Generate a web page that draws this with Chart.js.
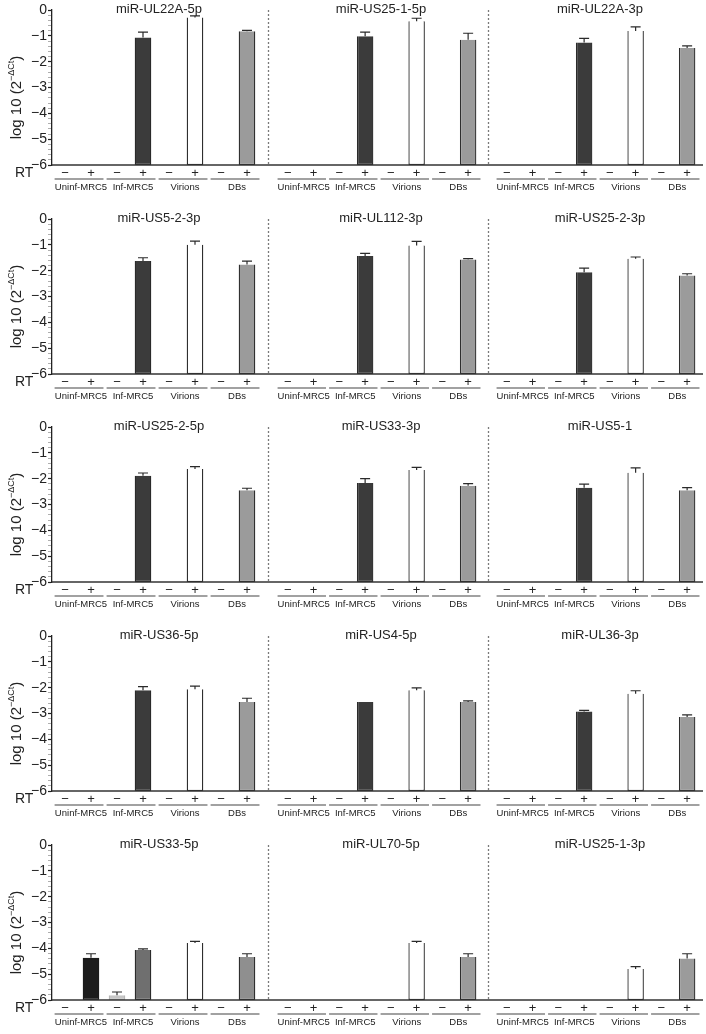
<!DOCTYPE html>
<html>
<head>
<meta charset="utf-8">
<script src="https://cdn.jsdelivr.net/npm/chart.js@4.4.1/dist/chart.umd.min.js"></script>
<style>
    body { margin: 0; background: #fff; width: 706px; height: 1034px; position: relative; overflow: hidden; }
    canvas { position: absolute; }
</style>
</head>
<body>
<script>
// Panel titles, left to right, top to bottom
const panelTitles = [
    'miR-UL22A-5p', 'miR-US25-1-5p', 'miR-UL22A-3p',
    'miR-US5-2-3p', 'miR-UL112-3p', 'miR-US25-2-3p',
    'miR-US25-2-5p', 'miR-US33-3p', 'miR-US5-1',
    'miR-US36-5p', 'miR-US4-5p', 'miR-UL36-3p',
    'miR-US33-5p', 'miR-UL70-5p', 'miR-US25-1-3p'
];
const rtLabels = ['−', '+', '−', '+', '−', '+', '−', '+'];
const groupLabels = ['Uninf-MRC5', 'Inf-MRC5', 'Virions', 'DBs'];

// log10(2^-dCt) per condition, one entry per panel (null = no bar)
const uninfPlus   = [null, null, null, null, null, null, null, null, null, null, null, null, -4.36, null, null];
const infMinus    = [null, null, null, null, null, null, null, null, null, null, null, null, -5.82, null, null];
const infPlus     = [-1.06, -1.02, -1.26, -1.63, -1.43, -2.06, -1.89, -2.17, -2.35, -2.10, -2.55, -2.92, -4.06, null, null];
const virionsPlus = [-0.29, -0.44, -0.81, -1.00, -1.03, -1.54, -1.63, -1.66, -1.77, -2.06, -2.10, -2.24, -3.79, -3.79, -4.80];
const dbsPlus     = [-0.82, -1.15, -1.47, -1.76, -1.57, -2.19, -2.45, -2.27, -2.45, -2.55, -2.55, -3.14, -4.34, -4.34, -4.39];

// upper error (SD) per condition
const uninfPlusErr   = [0, 0, 0, 0, 0, 0, 0, 0, 0, 0, 0, 0, 0.15, 0, 0];
const infMinusErr    = [0, 0, 0, 0, 0, 0, 0, 0, 0, 0, 0, 0, 0.13, 0, 0];
const infPlusErr     = [0.20, 0.16, 0.16, 0.13, 0.10, 0.16, 0.11, 0.17, 0.14, 0.14, 0, 0.04, 0.04, 0, 0];
const virionsPlusErr = [0.06, 0.12, 0.16, 0.14, 0.16, 0.07, 0.10, 0.10, 0.19, 0.12, 0.09, 0.12, 0.06, 0.06, 0.09];
const dbsPlusErr     = [0.03, 0.25, 0.08, 0.13, 0.04, 0.07, 0.08, 0.08, 0.10, 0.14, 0.04, 0.09, 0.13, 0.13, 0.18];

// slot order follows rtLabels: Uninf -, Uninf +, Inf -, Inf +, Virions -, Virions +, DBs -, DBs +
const slotValues = [null, uninfPlus, infMinus, infPlus, null, virionsPlus, null, dbsPlus];
const slotErrors = [null, uninfPlusErr, infMinusErr, infPlusErr, null, virionsPlusErr, null, dbsPlusErr];

// styles
const FONT = "'Liberation Sans', Arial, Helvetica, sans-serif";
const TEXT = '#222';
const slotFill   = ['#fff', '#1c1c1c', '#c6c6c6', '#3b3b3b', '#fff', '#ffffff', '#999', '#9b9b9b'];
const slotBorder = ['#222', '#1c1c1c', '#b5b5b5', '#2a2a2a', '#222', '#2a2a2a', '#222', '#2e2e2e'];
const fillOverride = { 12: { 3: '#6f6f6f', 7: '#8f8f8f' } };

const colGeo = [
    { x: 0, w: 266, padL: 0, padR: 6 },
    { x: 266, w: 220, padL: 9, padR: 5 },
    { x: 486, w: 220, padL: 8, padR: 6 }
];
const rowStep = 208.7;
const canvasH = 206;

function isWhole(v) {
    return Math.abs(v - Math.round(v)) < 1e-6;
}

function makePanel(p) {
    const row = Math.floor(p / 3);
    const col = p % 3;
    const geo = colGeo[col];

    const canvas = document.createElement('canvas');
    canvas.width = geo.w;
    canvas.height = canvasH;
    canvas.style.left = geo.x + 'px';
    canvas.style.top = Math.round(row * rowStep) + 'px';
    document.body.appendChild(canvas);

    const vals = slotValues.map(s => (s ? s[p] : null));
    const errs = slotErrors.map(s => (s ? s[p] : 0));
    const fills = slotFill.map((c, i) => (fillOverride[p] && fillOverride[p][i]) || c);

    // draws separators, baseline, error bars and all the panel text
    const decor = {
        id: 'decor' + p,
        afterDraw(chart) {
            const { ctx, chartArea: a, scales: { x, y } } = chart;
            const meta = chart.getDatasetMeta(0);
            ctx.save();

            // dotted separator between panels
            if (col > 0) {
                ctx.strokeStyle = '#7a7a7a';
                ctx.lineWidth = 1.3;
                ctx.setLineDash([2, 2]);
                ctx.beginPath();
                ctx.moveTo(2.5, a.top);
                ctx.lineTo(2.5, a.bottom);
                ctx.stroke();
                ctx.setLineDash([]);
            }

            // baseline at -6
            ctx.strokeStyle = '#333';
            ctx.lineWidth = 1.3;
            ctx.beginPath();
            ctx.moveTo(col === 0 ? a.left : 0, a.bottom);
            ctx.lineTo(col === 2 ? a.right + 3 : chart.width, a.bottom);
            ctx.stroke();

            // error bars (upper only)
            ctx.strokeStyle = '#2a2a2a';
            ctx.lineWidth = 1.2;
            errs.forEach((e, i) => {
                const v = vals[i];
                if (v == null || !e) return;
                const bx = meta.data[i].x;
                const y1 = y.getPixelForValue(v);
                const y2 = y.getPixelForValue(v + e);
                ctx.beginPath();
                ctx.moveTo(bx, y1);
                ctx.lineTo(bx, y2);
                ctx.moveTo(bx - 5, y2);
                ctx.lineTo(bx + 5, y2);
                ctx.stroke();
            });

            // panel title
            ctx.fillStyle = TEXT;
            ctx.font = '13px ' + FONT;
            ctx.textAlign = 'center';
            ctx.textBaseline = 'middle';
            ctx.fillText(panelTitles[p], (a.left + a.right) / 2 + 3, a.top - 1);

            // group underlines and labels
            ctx.strokeStyle = '#444';
            ctx.lineWidth = 1.1;
            ctx.font = '9.5px ' + FONT;
            const cw = x.getPixelForValue(1) - x.getPixelForValue(0);
            groupLabels.forEach((g, gi) => {
                const c1 = x.getPixelForValue(gi * 2);
                const c2 = x.getPixelForValue(gi * 2 + 1);
                ctx.beginPath();
                ctx.moveTo(c1 - cw * 0.4, a.bottom + 14);
                ctx.lineTo(c2 + cw * 0.48, a.bottom + 14);
                ctx.stroke();
                ctx.fillText(g, (c1 + c2) / 2 + 3, a.bottom + 22.5);
            });

            if (col === 0) {
                // RT label
                ctx.font = '14px ' + FONT;
                ctx.textAlign = 'left';
                ctx.fillText('RT', 15, a.bottom + 8);

                // y axis title with superscript
                const main = 'log 10 (2';
                const sup = '−ΔCt';
                ctx.font = '15px ' + FONT;
                const wMain = ctx.measureText(main).width;
                const wClose = ctx.measureText(')').width;
                ctx.font = '9px ' + FONT;
                const wSup = ctx.measureText(sup).width;
                const total = wMain + wSup + wClose;
                ctx.translate(17, (a.top + a.bottom) / 2 + 10);
                ctx.rotate(-Math.PI / 2);
                ctx.textAlign = 'left';
                ctx.font = '15px ' + FONT;
                ctx.fillText(main, -total / 2, 0);
                ctx.font = '9px ' + FONT;
                ctx.fillText(sup, -total / 2 + wMain, -5);
                ctx.font = '15px ' + FONT;
                ctx.fillText(')', -total / 2 + wMain + wSup, 0);
            }
            ctx.restore();
        }
    };

    const yScale = {
        display: col === 0,
        min: -6,
        max: 0,
        border: { display: true, color: '#222', width: 1.3 },
        grid: {
            drawOnChartArea: false,
            tickLength: 4,
            tickColor: c => (isWhole(c.tick.value) ? '#222' : '#999'),
            tickWidth: c => (isWhole(c.tick.value) ? 1.2 : 0.8)
        },
        ticks: {
            stepSize: 0.2,
            autoSkip: false,
            padding: 1,
            color: TEXT,
            font: { family: FONT, size: 14 },
            callback: v => (isWhole(v) ? (Math.round(v) === 0 ? '0' : '−' + Math.abs(Math.round(v))) : '')
        }
    };
    if (col === 0) {
        yScale.afterFit = s => { s.width = 52; };
    }

    new Chart(canvas, {
        type: 'bar',
        data: {
            labels: rtLabels,
            datasets: [{
                data: vals.map(v => (v == null ? null : [-6, v])),
                backgroundColor: fills,
                borderColor: slotBorder,
                borderWidth: 1.3,
                borderSkipped: 'start',
                categoryPercentage: 1,
                barPercentage: 0.64
            }]
        },
        options: {
            responsive: false,
            animation: false,
            events: [],
            layout: { padding: { top: 10, bottom: 11, left: geo.padL, right: geo.padR } },
            plugins: { legend: { display: false }, tooltip: { enabled: false } },
            scales: {
                x: {
                    grid: { display: false, drawTicks: false },
                    border: { display: false },
                    ticks: { padding: 1, color: TEXT, font: { family: FONT, size: 13 }, maxRotation: 0, autoSkip: false },
                    afterFit: s => { s.height = 30; }
                },
                y: yScale
            }
        },
        plugins: [decor]
    });
}

panelTitles.forEach((t, p) => makePanel(p));
</script>
</body>
</html>
